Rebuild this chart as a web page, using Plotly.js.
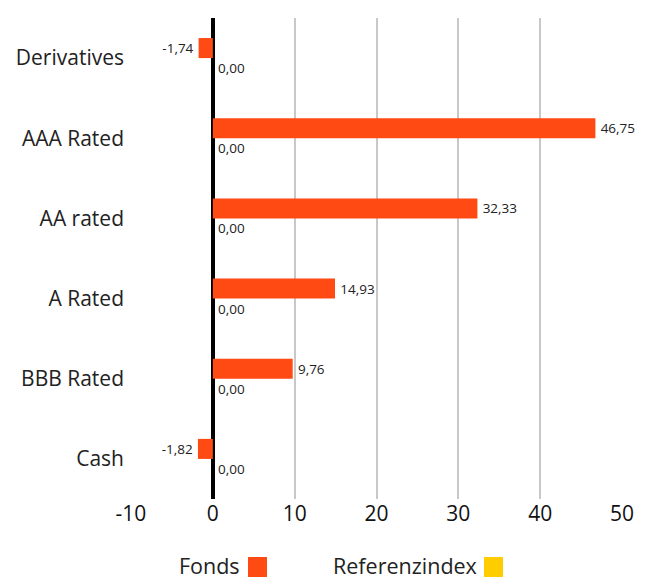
<!DOCTYPE html>
<html>
<head>
<meta charset="utf-8">
<script src="https://cdn.plot.ly/plotly-3.0.1.min.js"></script>
<style>
html,body{margin:0;padding:0;background:#fff;}
#chart{width:652px;height:579px;}
</style>
</head>
<body>
<div id="chart"></div>
<script>
const categories = ["Derivatives", "AAA Rated", "AA rated", "A Rated", "BBB Rated", "Cash"];
const fondsValues = [-1.74, 46.75, 32.33, 14.93, 9.76, -1.82];
const indexValues = [0.00, 0.00, 0.00, 0.00, 0.00, 0.00];
const xTicks = [-10, 0, 10, 20, 30, 40, 50];
const seriesNames = ["Fonds", "Referenzindex"];
const colors = ["#FF4A14", "#FFCC00"];

const fmt = v => {
  const s = v.toFixed(2).replace('.', ',');
  return v < 0 ? s + '\u2009' : '\u2009' + s;
};
const FONT = "'Open Sans', 'Noto Sans', sans-serif";

const traces = [
  {
    type: 'bar', orientation: 'h', name: seriesNames[0],
    y: categories, x: fondsValues,
    marker: {color: colors[0]},
    text: fondsValues.map(fmt), textposition: 'outside', cliponaxis: false,
    textfont: {size: 13.5, color: '#222', family: FONT},
    hoverinfo: 'none'
  },
  {
    type: 'bar', orientation: 'h', name: seriesNames[1],
    y: categories, x: indexValues,
    marker: {color: colors[1]},
    text: indexValues.map(fmt), textposition: 'outside', cliponaxis: false,
    textfont: {size: 13.5, color: '#222', family: FONT},
    hoverinfo: 'none'
  }
];

// plot area in pixels: x 131..622, y 18..499
const L = 131, R = 30, T = 18, B = 80;
const W = 652 - L - R, H = 579 - T - B;
const px = p => (p - L) / W;
const py = p => (579 - B - p) / H;

const legendItems = [
  {textRight: 241, sqLeft: 248, label: seriesNames[0], color: colors[0]},
  {textRight: 478, sqLeft: 484, label: seriesNames[1], color: colors[1]}
];

const layout = {
  width: 652, height: 579,
  margin: {l: L, r: R, t: T, b: B, pad: 0},
  paper_bgcolor: '#fff', plot_bgcolor: '#fff',
  font: {family: FONT, color: '#222'},
  barmode: 'group', bargap: 0.5, bargroupgap: 0,
  showlegend: false,
  xaxis: {
    range: [-10, 50], tickvals: xTicks, ticktext: xTicks.map(String),
    showgrid: true, gridcolor: '#c8c8c8', gridwidth: 2,
    zeroline: true, zerolinecolor: '#000', zerolinewidth: 4,
    showline: false, ticks: '', ticklabelstandoff: 0,
    tickfont: {size: 21, color: '#111', family: FONT},
    fixedrange: true
  },
  yaxis: {
    autorange: 'reversed', type: 'category',
    showgrid: false, zeroline: false, showline: false, ticks: '',
    ticklabelstandoff: 6,
    tickfont: {size: 21, color: '#222', family: FONT},
    fixedrange: true
  },
  annotations: legendItems.map(it => ({
    xref: 'paper', yref: 'paper', x: px(it.textRight), y: py(565),
    xanchor: 'right', yanchor: 'middle', showarrow: false, borderpad: 0,
    text: it.label, font: {size: 21.5, color: '#222', family: FONT}
  })),
  shapes: legendItems.map(it => ({
    type: 'rect', xref: 'paper', yref: 'paper',
    x0: px(it.sqLeft), x1: px(it.sqLeft + 19),
    y0: py(577), y1: py(557),
    fillcolor: it.color, line: {width: 0}
  }))
};

Plotly.newPlot('chart', traces, layout, {displayModeBar: false, staticPlot: true});
</script>
</body>
</html>
